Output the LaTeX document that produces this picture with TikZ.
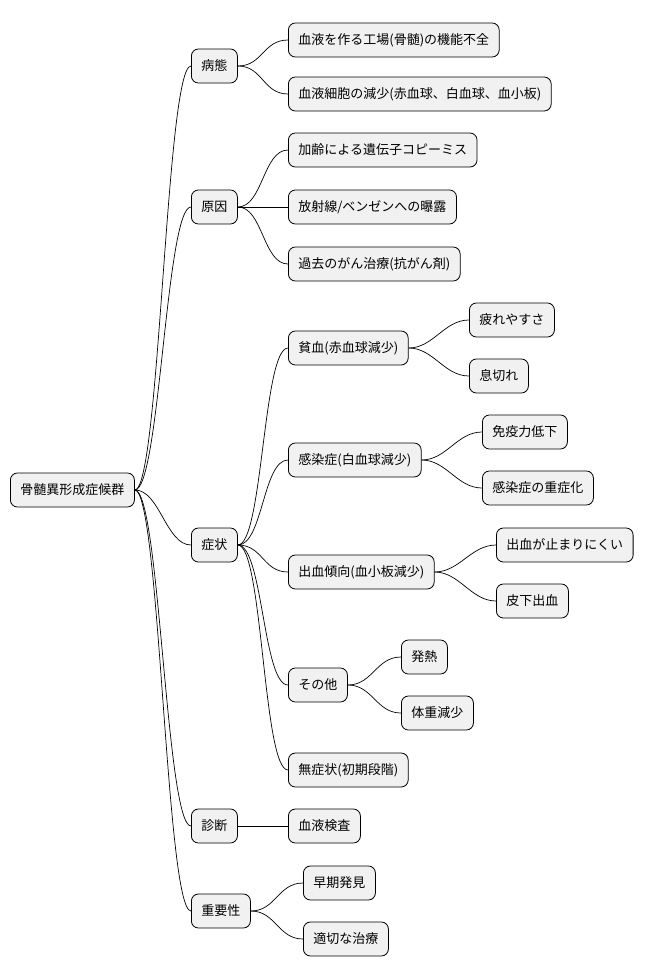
\documentclass[tikz,border=0pt]{standalone}
\usepackage{fontspec}
\newfontfamily\jp{Noto Sans CJK JP}
\begin{document}
\begin{tikzpicture}[x=1pt,y=-1pt,
  nd/.style={draw=black,fill={rgb,255:red,241;green,241;blue,241},rounded corners=7pt,
    anchor=west,font=\jp\fontsize{13}{15}\selectfont,inner xsep=10pt,minimum height=34pt,line width=0.8pt},
  ed/.style={line width=0.7pt}]
\useasboundingbox (0,0) rectangle (653,978);
\node[nd] (r) at (10,490) {骨髄異形成症候群};
\node[nd] (a) at (191,66) {病態};
\node[nd] (b) at (191,207) {原因};
\node[nd] (c) at (191,545) {症状};
\node[nd] (d) at (191,826) {診断};
\node[nd] (e) at (191,911) {重要性};
\node[nd] (a1) at (288,40) {血液を作る工場(骨髄)の機能不全};
\node[nd] (a2) at (288,94) {血液細胞の減少(赤血球、白血球、血小板)};
\node[nd] (b1) at (288,150) {加齢による遺伝子コピーミス};
\node[nd] (b2) at (288,207) {放射線/ベンゼンへの曝露};
\node[nd] (b3) at (288,264) {過去のがん治療(抗がん剤)};
\node[nd] (c1) at (288,348) {貧血(赤血球減少)};
\node[nd] (c2) at (288,460) {感染症(白血球減少)};
\node[nd] (c3) at (288,572) {出血傾向(血小板減少)};
\node[nd] (c4) at (288,685) {その他};
\node[nd] (c5) at (288,770) {無症状(初期段階)};
\node[nd] (c11) at (469,320) {疲れやすさ};
\node[nd] (c12) at (469,376) {息切れ};
\node[nd] (c21) at (482,432) {免疫力低下};
\node[nd] (c22) at (482,488) {感染症の重症化};
\node[nd] (c31) at (496,545) {出血が止まりにくい};
\node[nd] (c32) at (496,601) {皮下出血};
\node[nd] (c41) at (401,657) {発熱};
\node[nd] (c42) at (401,713) {体重減少};
\node[nd] (d1) at (288,826) {血液検査};
\node[nd] (e1) at (303,883) {早期発見};
\node[nd] (e2) at (303,939) {適切な治療};
\foreach \p/\c in {r/a,r/b,r/c,r/d,r/e,a/a1,a/a2,b/b1,b/b2,b/b3,c/c1,c/c2,c/c3,c/c4,c/c5,
  c1/c11,c1/c12,c2/c21,c2/c22,c3/c31,c3/c32,c4/c41,c4/c42,d/d1,e/e1,e/e2}
  \draw[ed] (\p.east) .. controls +(25,0) and +(-25,0) .. (\c.west);
\end{tikzpicture}
\end{document}
